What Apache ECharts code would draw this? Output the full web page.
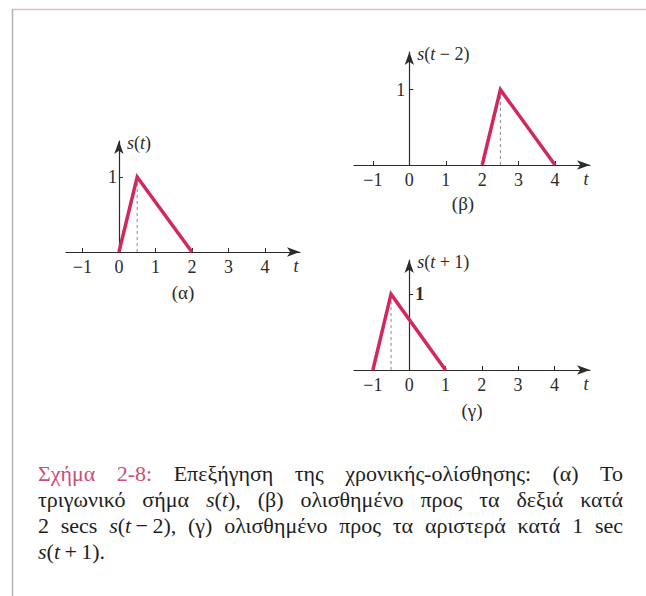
<!DOCTYPE html>
<html>
<head>
<meta charset="utf-8">
<script src="https://cdn.jsdelivr.net/npm/echarts@6/dist/echarts.min.js"></script>
<style>
  html, body { margin: 0; padding: 0; background: #ffffff; }
  #chart { width: 646px; height: 596px; }
</style>
</head>
<body>
<div id="chart"></div>
<script>
// Triangular pulse s(t) and its time-shifted copies
const tTicks = [-1, 0, 1, 2, 3, 4];
const sTicks = [1];
const sValues = [0, 1, 0];
const tOriginal = [0, 0.5, 2];     // s(t)
const tRight2 = [2, 2.5, 4];       // s(t - 2)
const tLeft1 = [-1, -0.5, 1];      // s(t + 1)
const peakTimes = [0.5, 2.5, -0.5];
const panelTags = ['(α)', '(β)', '(γ)'];
const yAxisNames = [
  '{i|s}{r|(}{i|t}{r|)}',
  '{i|s}{r|(}{i|t}{r| − 2)}',
  '{i|s}{r|(}{i|t}{r| + 1)}'
];

// Caption: each word is a list of [text, style] pieces
const captionLines = [
  [[['Σχήμα', 'a']], [['2-8:', 'a']], [['Επεξήγηση', 'r']], [['της', 'r']],
   [['χρονικής-ολίσθησης:', 'r']], [['(α)', 'r']], [['Το', 'r']]],
  [[['τριγωνικό', 'r']], [['σήμα', 'r']], [['s', 'i'], ['(', 'r'], ['t', 'i'], ['),', 'r']],
   [['(β)', 'r']], [['ολισθημένο', 'r']], [['προς', 'r']], [['τα', 'r']], [['δεξιά', 'r']], [['κατά', 'r']]],
  [[['2', 'r']], [['secs', 'r']], [['s', 'i'], ['(', 'r'], ['t', 'i'], ['\u2009−\u20092),', 'r']],
   [['(γ)', 'r']], [['ολισθημένο', 'r']], [['προς', 'r']], [['τα', 'r']], [['αριστερά', 'r']],
   [['κατά', 'r']], [['1', 'r']], [['sec', 'r']]],
  [[['s', 'i'], ['(', 'r'], ['t', 'i'], ['\u2009+\u20091).', 'r']]]
];

// ---- layout ----
const SERIF = 'Liberation Serif';
const AXIS_COLOR = '#2b2b2b';
const PULSE_COLOR = '#d3285c';
const ACCENT = '#cc4d76';
const panels = [
  { left: 66,  top: 141, width: 234, height: 111, xMin: -1.45, xMax: 4.96, yMax: 1.48, labelInside: false, labelMargin: 2, tag: [183, 292] },
  { left: 354, top: 52,  width: 236, height: 113, xMin: -1.52, xMax: 4.96, yMax: 1.50, labelInside: false, labelMargin: 4, tag: [463, 203] },
  { left: 354, top: 260, width: 236, height: 110, xMin: -1.52, xMax: 4.98, yMax: 1.45, labelInside: true,  labelMargin: 6, tag: [472, 410] }
];
const pulseTimes = [tOriginal, tRight2, tLeft1];

const richStyles = {
  r: { fontFamily: SERIF, fontSize: 18, color: AXIS_COLOR },
  i: { fontFamily: SERIF, fontSize: 18, fontStyle: 'italic', color: AXIS_COLOR }
};

const grids = [], xAxes = [], yAxes = [], series = [];
panels.forEach((p, i) => {
  grids.push({ left: p.left, top: p.top, width: p.width, height: p.height, containLabel: false });
  xAxes.push({
    type: 'value', gridIndex: i, min: p.xMin, max: p.xMax,
    name: 't', nameLocation: 'end', nameGap: -4,
    nameTextStyle: { fontFamily: SERIF, fontSize: 18, fontStyle: 'italic', color: AXIS_COLOR,
                     align: 'center', verticalAlign: 'top', padding: [5, 0, 0, 0] },
    axisLine: { onZero: true, symbol: ['none', 'arrow'], symbolSize: [7, 13],
                lineStyle: { color: AXIS_COLOR, width: 1.2 } },
    axisTick: { show: true, inside: true, length: 4, customValues: tTicks,
                lineStyle: { color: AXIS_COLOR, width: 1 } },
    axisLabel: { customValues: tTicks, margin: 6, fontFamily: SERIF, fontSize: 18, color: AXIS_COLOR,
                 formatter: v => (v < 0 ? '−' + (-v) : String(v)) },
    splitLine: { show: false }
  });
  // y axis sits on t = 0: shift it in from the grid's left edge
  const zeroShift = p.xMin / (p.xMax - p.xMin) * p.width;
  yAxes.push({
    type: 'value', gridIndex: i, min: 0, max: p.yMax, position: 'left', offset: zeroShift,
    name: yAxisNames[i], nameLocation: 'end', nameGap: -2,
    nameTextStyle: { fontFamily: SERIF, fontSize: 18, align: 'left', verticalAlign: 'middle',
                     padding: [0, 0, 0, 8], rich: richStyles },
    axisLine: { onZero: false, symbol: ['none', 'arrow'], symbolSize: [7, 13],
                lineStyle: { color: AXIS_COLOR, width: 1.2 } },
    axisTick: { show: true, inside: true, length: 4, customValues: sTicks,
                lineStyle: { color: AXIS_COLOR, width: 1 } },
    axisLabel: { customValues: sTicks, inside: p.labelInside, margin: p.labelMargin,
                 fontFamily: SERIF, fontSize: 18, color: AXIS_COLOR,
                 fontWeight: p.labelInside ? 'bold' : 'normal' },
    splitLine: { show: false }
  });
  // dashed guide under the peak
  series.push({
    type: 'line', xAxisIndex: i, yAxisIndex: i, symbol: 'none', silent: true,
    data: [[peakTimes[i], 0], [peakTimes[i], sValues[1]]],
    lineStyle: { color: '#8a8a8a', width: 1, type: [3, 3] }, z: 1
  });
  // the pulse itself
  series.push({
    type: 'line', xAxisIndex: i, yAxisIndex: i, symbol: 'none', silent: true,
    data: pulseTimes[i].map((t, k) => [t, sValues[k]]),
    lineStyle: { color: PULSE_COLOR, width: 3.5, join: 'miter' }, z: 3
  });
});

// ---- caption with justified lines ----
const CAP_SIZE = 22;
const CAP_LEFT = 38, CAP_RIGHT = 623;
const CAP_LINE_Y = [473, 499, 525, 551];
const measureCtx = document.createElement('canvas').getContext('2d');
const pieceFont = st => (st === 'i' ? 'italic ' : '') + CAP_SIZE + 'px ' + SERIF;
const wordWidth = w => w.reduce((s, [txt, st]) => { measureCtx.font = pieceFont(st); return s + measureCtx.measureText(txt).width; }, 0);
measureCtx.font = pieceFont('r');
const spaceWidth = measureCtx.measureText(' ').width;
const capRich = {
  r: { fontFamily: SERIF, fontSize: CAP_SIZE, fill: '#1e1e1e' },
  i: { fontFamily: SERIF, fontSize: CAP_SIZE, fontStyle: 'italic', fill: '#1e1e1e' },
  a: { fontFamily: SERIF, fontSize: CAP_SIZE, fill: ACCENT }
};

const graphics = [
  // page frame
  { type: 'line', shape: { x1: 12, y1: 9.5, x2: 646, y2: 9.5 }, style: { stroke: '#e6b7c4', lineWidth: 1.5 }, silent: true },
  { type: 'line', shape: { x1: 12.5, y1: 9, x2: 12.5, y2: 596 }, style: { stroke: '#b3b3b3', lineWidth: 1.5 }, silent: true }
];
panels.forEach((p, i) => {
  graphics.push({ type: 'text', x: p.tag[0], y: p.tag[1], silent: true,
    style: { text: panelTags[i], fontFamily: SERIF, fontSize: 19, fill: AXIS_COLOR, align: 'center', verticalAlign: 'middle' } });
});
captionLines.forEach((words, li) => {
  const widths = words.map(wordWidth);
  const total = widths.reduce((a, b) => a + b, 0);
  const justify = li < captionLines.length - 1 && words.length > 1;
  const gap = justify ? (CAP_RIGHT - CAP_LEFT - total) / (words.length - 1) : spaceWidth;
  let x = CAP_LEFT;
  words.forEach((w, wi) => {
    graphics.push({ type: 'text', x: x, y: CAP_LINE_Y[li], silent: true,
      style: { text: w.map(([txt, st]) => '{' + st + '|' + txt + '}').join(''), rich: capRich,
               fontFamily: SERIF, fontSize: CAP_SIZE, align: 'left', verticalAlign: 'middle' } });
    x += widths[wi] + gap;
  });
});

const chart = echarts.init(document.getElementById('chart'), null, { renderer: 'svg' });
chart.setOption({
  backgroundColor: '#ffffff',
  animation: false,
  grid: grids,
  xAxis: xAxes,
  yAxis: yAxes,
  series: series,
  graphic: graphics
});
</script>
</body>
</html>
